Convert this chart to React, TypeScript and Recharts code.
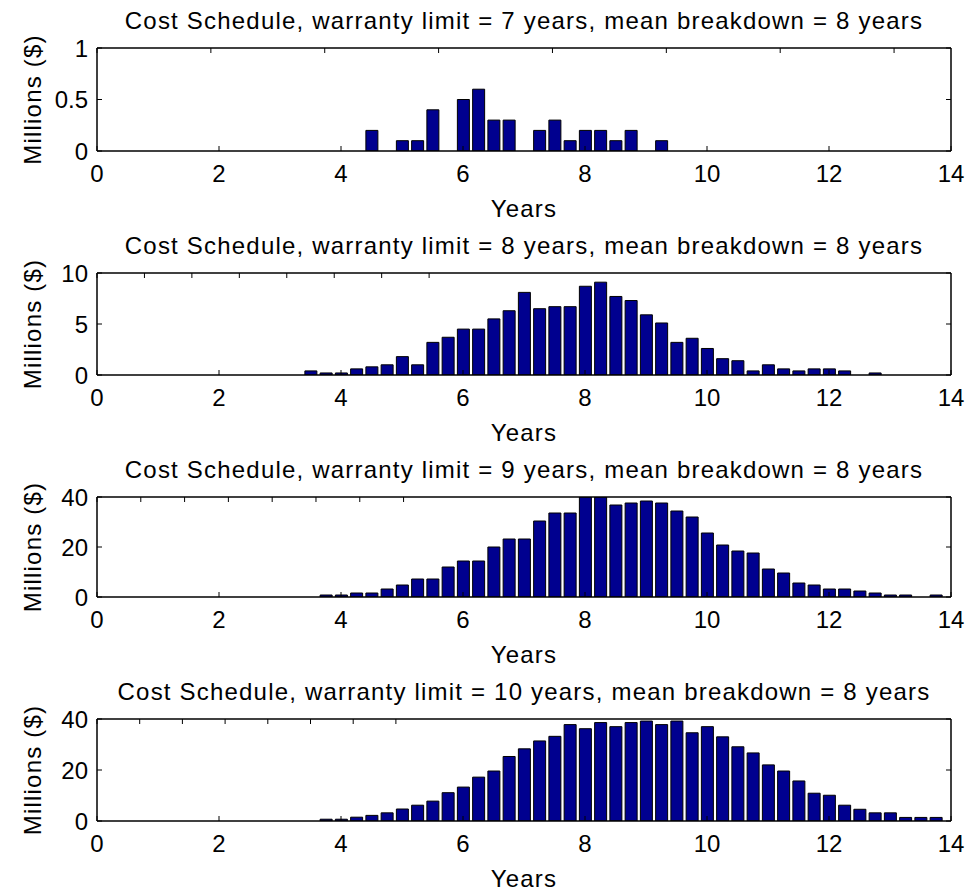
import { BarChart, Bar, XAxis, YAxis } from 'recharts';

// quarter-year buckets, cost in millions of dollars
const YEARS_7 = [4.5, 5, 5.25, 5.5, 6, 6.25, 6.5, 6.75, 7.25, 7.5, 7.75, 8, 8.25, 8.5, 8.75, 9.25];
const COST_7 = [0.2, 0.1, 0.1, 0.4, 0.5, 0.6, 0.3, 0.3, 0.2, 0.3, 0.1, 0.2, 0.2, 0.1, 0.2, 0.1];

const YEARS_8 = [
  3.5, 3.75, 4, 4.25, 4.5, 4.75, 5, 5.25, 5.5, 5.75, 6, 6.25, 6.5, 6.75, 7, 7.25, 7.5, 7.75, 8, 8.25,
  8.5, 8.75, 9, 9.25, 9.5, 9.75, 10, 10.25, 10.5, 10.75, 11, 11.25, 11.5, 11.75, 12, 12.25, 12.75,
];
const COST_8 = [
  0.4, 0.2, 0.2, 0.6, 0.8, 1.0, 1.8, 1.0, 3.2, 3.7, 4.5, 4.5, 5.5, 6.3, 8.1, 6.5, 6.7, 6.7, 8.7, 9.1,
  7.7, 7.3, 5.9, 5.1, 3.2, 3.6, 2.6, 1.6, 1.4, 0.4, 1.0, 0.6, 0.4, 0.6, 0.6, 0.4, 0.2,
];

const YEARS_9 = [
  3.75, 4, 4.25, 4.5, 4.75, 5, 5.25, 5.5, 5.75, 6, 6.25, 6.5, 6.75, 7, 7.25, 7.5, 7.75, 8, 8.25, 8.5,
  8.75, 9, 9.25, 9.5, 9.75, 10, 10.25, 10.5, 10.75, 11, 11.25, 11.5, 11.75, 12, 12.25, 12.5, 12.75, 13,
  13.25, 13.75,
];
const COST_9 = [
  0.8, 0.8, 1.6, 1.6, 3.2, 4.8, 7.2, 7.2, 12.0, 14.4, 14.4, 20.0, 23.2, 23.2, 30.4, 33.6, 33.6, 40, 40, 36.8,
  37.6, 38.4, 37.6, 34.4, 32.0, 25.6, 20.8, 18.4, 17.6, 11.2, 9.6, 5.6, 4.8, 3.2, 3.2, 2.4, 1.6, 0.8,
  0.8, 0.8,
];

const YEARS_10 = [
  3.75, 4, 4.25, 4.5, 4.75, 5, 5.25, 5.5, 5.75, 6, 6.25, 6.5, 6.75, 7, 7.25, 7.5, 7.75, 8, 8.25, 8.5,
  8.75, 9, 9.25, 9.5, 9.75, 10, 10.25, 10.5, 10.75, 11, 11.25, 11.5, 11.75, 12, 12.25, 12.5, 12.75, 13,
  13.25, 13.5, 13.75,
];
const COST_10 = [
  0.7, 0.7, 1.5, 2.2, 3.2, 4.7, 6.2, 7.8, 11.1, 13.3, 17.2, 19.6, 25.3, 28.3, 31.4, 33.2, 37.8, 36.2, 38.6, 37.0,
  38.6, 39.2, 37.8, 39.2, 34.6, 37.0, 33.0, 29.1, 26.7, 22.0, 19.6, 15.7, 10.9, 10.1, 6.2, 4.6, 3.2, 3.2,
  1.4, 1.4, 1.4,
];

const YEAR_TICKS = [0, 2, 4, 6, 8, 10, 12, 14];

const FONT = '"Liberation Sans", Arial, Helvetica, sans-serif';
const BAR_FILL = '#00008f';
const W = 968;
const PLOT_LEFT = 97;
const PLOT_RIGHT = 951;
const PAD_TOP = 20;
const TICK = 5; // inward tick length
const X_GAP = 14; // axis line to top of x tick labels
const Y_GAP = 9; // axis line to end of y tick labels

interface Panel {
  limit: number;
  years: number[];
  cost: number[];
  yMax: number;
  yTicks: number[];
  top: number;
  height: number;
}

const PANELS: Panel[] = [
  { limit: 7, years: YEARS_7, cost: COST_7, yMax: 1, yTicks: [0, 0.5, 1], top: 48, height: 103 },
  { limit: 8, years: YEARS_8, cost: COST_8, yMax: 10, yTicks: [0, 5, 10], top: 273, height: 102 },
  { limit: 9, years: YEARS_9, cost: COST_9, yMax: 40, yTicks: [0, 20, 40], top: 497, height: 100 },
  { limit: 10, years: YEARS_10, cost: COST_10, yMax: 40, yTicks: [0, 20, 40], top: 719, height: 102 },
];

const axisLine = { stroke: '#000', strokeWidth: 1.5 };
const textStyle = { fill: '#000', fontSize: 24, fontFamily: FONT };

// matlab-style ticks: short marks pointing into the box, labels outside
const BottomTick = (props: any) => {
  const { x, y, payload } = props;
  const axisY = y - X_GAP;
  return (
    <g>
      <line x1={x} x2={x} y1={axisY} y2={axisY - TICK} stroke="#000" />
      <text x={x} y={y + 17} textAnchor="middle" style={textStyle}>
        {payload.value}
      </text>
    </g>
  );
};

const TopTick = (props: any) => {
  const { x, y } = props;
  return <line x1={x} x2={x} y1={y} y2={y + TICK} stroke="#000" />;
};

const LeftTick = (props: any) => {
  const { x, y, payload } = props;
  const axisX = x + Y_GAP;
  return (
    <g>
      <line x1={axisX} x2={axisX + TICK} y1={y} y2={y} stroke="#000" />
      <text x={x} y={y + 8.5} textAnchor="end" style={textStyle}>
        {payload.value}
      </text>
    </g>
  );
};

const RightTick = (props: any) => {
  const { x, y } = props;
  return <line x1={x} x2={x - TICK} y1={y} y2={y} stroke="#000" />;
};

function CostPanel({ p }: { p: Panel }) {
  const data = p.years.map((year, i) => ({ year, cost: p.cost[i] }));
  return (
    <div style={{ position: 'absolute', left: 0, top: p.top - PAD_TOP }}>
      <BarChart
        width={W}
        height={p.height + PAD_TOP + 40}
        data={data}
        margin={{ top: PAD_TOP - 1, right: W - PLOT_RIGHT - 1, bottom: 0, left: 0 }}
      >
        <XAxis
          dataKey="year"
          type="number"
          domain={[0, 14]}
          ticks={YEAR_TICKS}
          interval={0}
          height={40}
          tickSize={0}
          tickMargin={X_GAP}
          axisLine={axisLine}
          tickLine={false}
          tick={BottomTick}
          allowDataOverflow
        />
        <XAxis
          xAxisId="top"
          orientation="top"
          type="number"
          domain={[0, 14]}
          ticks={YEAR_TICKS}
          interval={0}
          height={1}
          tickSize={0}
          tickMargin={0}
          axisLine={axisLine}
          tickLine={false}
          tick={TopTick}
          allowDataOverflow
        />
        <YAxis
          type="number"
          domain={[0, p.yMax]}
          ticks={p.yTicks}
          interval={0}
          width={PLOT_LEFT}
          tickSize={0}
          tickMargin={Y_GAP}
          axisLine={axisLine}
          tickLine={false}
          tick={LeftTick}
          allowDataOverflow
        />
        <YAxis
          yAxisId="right"
          orientation="right"
          type="number"
          domain={[0, p.yMax]}
          ticks={p.yTicks}
          interval={0}
          width={1}
          tickSize={0}
          tickMargin={0}
          axisLine={axisLine}
          tickLine={false}
          tick={RightTick}
          allowDataOverflow
        />
        <Bar
          dataKey="cost"
          fill={BAR_FILL}
          stroke="#000"
          strokeWidth={1}
          barSize={12}
          isAnimationActive={false}
        />
      </BarChart>
    </div>
  );
}

export default function App() {
  const cx = (PLOT_LEFT + PLOT_RIGHT) / 2;
  const labelStyle = { fontFamily: FONT, fontSize: 24, fill: '#000', letterSpacing: 1.2 };
  return (
    <div style={{ position: 'absolute', left: 0, top: 0, width: W, height: 895, background: '#fff' }}>
      {PANELS.map((p) => (
        <CostPanel key={p.limit} p={p} />
      ))}
      <svg
        width={W}
        height={895}
        style={{ position: 'absolute', left: 0, top: 0, pointerEvents: 'none' }}
      >
        {PANELS.map((p) => (
          <g key={p.limit}>
            <text x={cx} y={p.top - 19} textAnchor="middle" style={labelStyle}>
              {`Cost Schedule, warranty limit = ${p.limit} years, mean breakdown = 8 years`}
            </text>
            <text x={cx} y={p.top + p.height + 66} textAnchor="middle" style={labelStyle}>
              Years
            </text>
            <text
              transform={`translate(41, ${p.top + p.height / 2}) rotate(-90)`}
              textAnchor="middle"
              style={labelStyle}
            >
              Millions ($)
            </text>
          </g>
        ))}
      </svg>
    </div>
  );
}
